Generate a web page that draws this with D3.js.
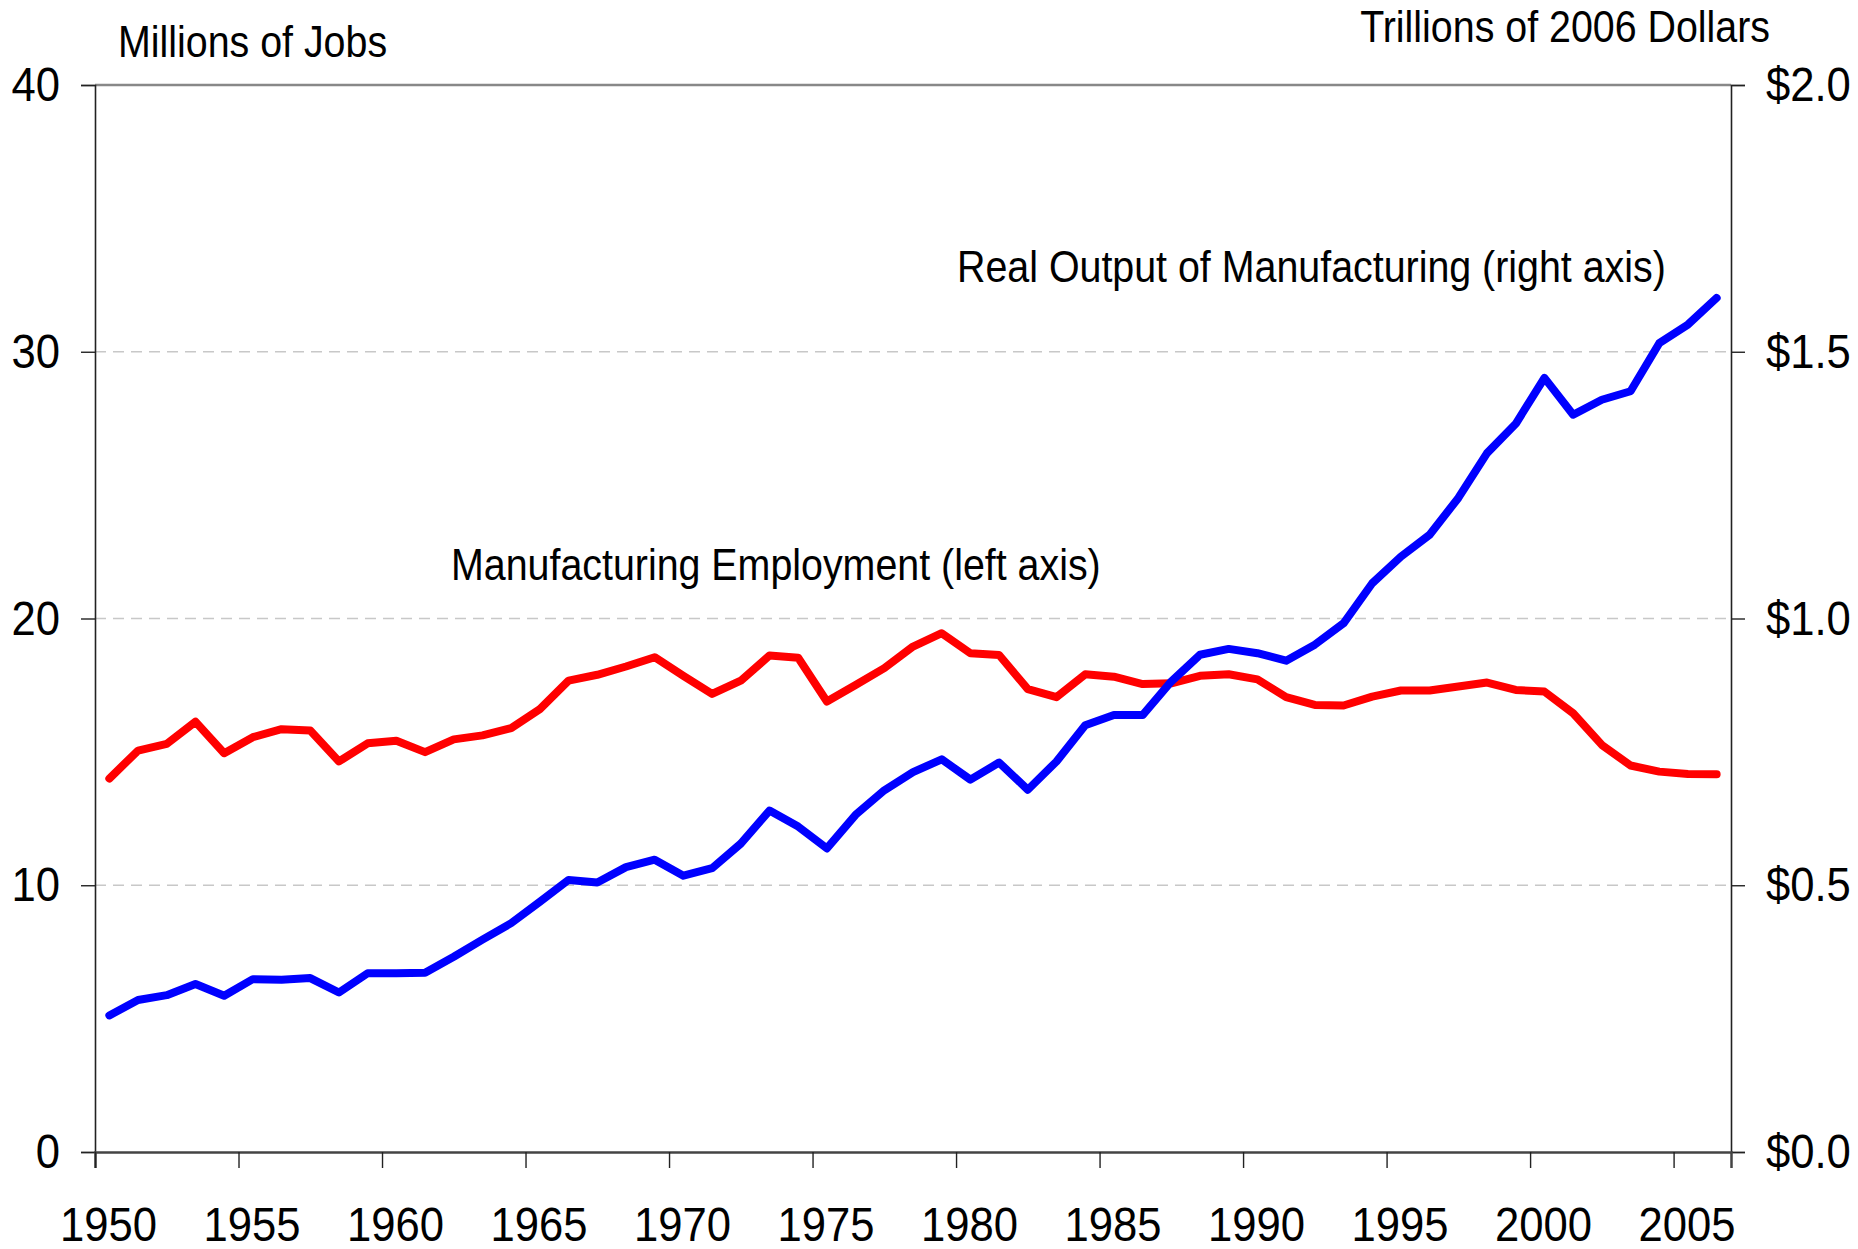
<!DOCTYPE html>
<html>
<head>
<meta charset="utf-8">
<script src="https://cdn.jsdelivr.net/npm/d3@7"></script>
<style>
  body { margin: 0; background: #fff; }
  text { font-family: "Liberation Sans", Arial, sans-serif; fill: #000; }
</style>
</head>
<body>
<div id="chart"></div>
<script>
// Years on the x axis (plotted mid-year)
const years = [1950, 1951, 1952, 1953, 1954, 1955, 1956, 1957, 1958, 1959,
               1960, 1961, 1962, 1963, 1964, 1965, 1966, 1967, 1968, 1969,
               1970, 1971, 1972, 1973, 1974, 1975, 1976, 1977, 1978, 1979,
               1980, 1981, 1982, 1983, 1984, 1985, 1986, 1987, 1988, 1989,
               1990, 1991, 1992, 1993, 1994, 1995, 1996, 1997, 1998, 1999,
               2000, 2001, 2002, 2003, 2004, 2005, 2006];

// Manufacturing employment, millions of jobs (left axis)
const employment = [14.0, 15.05, 15.3, 16.13, 14.95, 15.55, 15.85, 15.8, 14.64, 15.32,
                    15.42, 14.99, 15.47, 15.62, 15.89, 16.6, 17.67, 17.89, 18.2, 18.55,
                    17.85, 17.17, 17.67, 18.61, 18.53, 16.89, 17.51, 18.14, 18.95, 19.45,
                    18.7, 18.63, 17.35, 17.05, 17.91, 17.82, 17.54, 17.57, 17.85, 17.91,
                    17.72, 17.05, 16.76, 16.74, 17.07, 17.3, 17.3, 17.45, 17.6, 17.32,
                    17.26, 16.45, 15.26, 14.49, 14.26, 14.17, 14.16];

// Real output of manufacturing, trillions of 2006 dollars (right axis)
const output = [0.256, 0.285, 0.294, 0.315, 0.293, 0.324, 0.323, 0.326, 0.299, 0.335,
                0.335, 0.336, 0.366, 0.398, 0.429, 0.469, 0.510, 0.505, 0.534, 0.548,
                0.518, 0.532, 0.578, 0.640, 0.610, 0.569, 0.632, 0.678, 0.712, 0.736,
                0.698, 0.730, 0.679, 0.732, 0.800, 0.819, 0.819, 0.882, 0.932, 0.943,
                0.935, 0.921, 0.951, 0.991, 1.066, 1.116, 1.157, 1.226, 1.310, 1.365,
                1.451, 1.382, 1.410, 1.426, 1.516, 1.551, 1.601];

const xTicks = [1950, 1955, 1960, 1965, 1970, 1975, 1980, 1985, 1990, 1995, 2000, 2005];
const leftTicks = [0, 10, 20, 30, 40];
const rightTicks = [0, 0.5, 1.0, 1.5, 2.0];

const width = 1858;
const height = 1249;
const plot = { left: 95, right: 1731, top: 85, bottom: 1152 };

// the original uses a condensed face; squeeze Liberation Sans to match
const tickSqueeze = 0.89;
const labelSqueeze = 0.875;

const svg = d3.select("#chart")
  .append("svg")
  .attr("width", width)
  .attr("height", height);

const x = d3.scaleLinear().domain([1950, 2007]).range([plot.left, plot.right]);
const yLeft = d3.scaleLinear().domain([0, 40]).range([plot.bottom, plot.top]);
const yRight = d3.scaleLinear().domain([0, 2]).range([plot.bottom, plot.top]);

// dashed gridlines
svg.append("g")
  .selectAll("line")
  .data(leftTicks.filter(d => d > 0 && d < 40))
  .join("line")
    .attr("x1", plot.left).attr("x2", plot.right)
    .attr("y1", d => yLeft(d)).attr("y2", d => yLeft(d))
    .attr("stroke", "#c8c8c8")
    .attr("stroke-width", 1.5)
    .attr("stroke-dasharray", "11,7");

// top frame line
svg.append("line")
  .attr("x1", plot.left).attr("x2", plot.right)
  .attr("y1", plot.top).attr("y2", plot.top)
  .attr("stroke", "#888")
  .attr("stroke-width", 2.5);

// left axis
const leftAxis = svg.append("g")
  .attr("transform", `translate(${plot.left},0)`)
  .call(d3.axisLeft(yLeft).tickValues(leftTicks).tickSize(14).tickPadding(21).tickFormat(d3.format("d")));

// right axis
const rightAxis = svg.append("g")
  .attr("transform", `translate(${plot.right},0)`)
  .call(d3.axisRight(yRight).tickValues(rightTicks).tickSize(14).tickPadding(21).tickFormat(d => "$" + d.toFixed(1)));

// bottom axis
const bottomAxis = svg.append("g")
  .attr("transform", `translate(0,${plot.bottom})`)
  .call(d3.axisBottom(x).tickValues(xTicks).tickSize(16).tickPadding(38).tickFormat(d3.format("d")));

[leftAxis, rightAxis, bottomAxis].forEach(g => {
  g.select(".domain").attr("stroke", "#222").attr("stroke-width", 1.6);
  g.selectAll(".tick line").attr("stroke", "#222").attr("stroke-width", 1.4);
  g.selectAll(".tick text")
    .attr("font-family", '"Liberation Sans", Arial, sans-serif')
    .style("font-size", "49px")
    .attr("fill", "#000")
    .attr("x", function() { return (+this.getAttribute("x") || 0) / tickSqueeze; })
    .attr("transform", `scale(${tickSqueeze},1)`);
});
// year labels sit a little right of their ticks in the original
bottomAxis.selectAll(".tick text").attr("x", 13 / tickSqueeze);
bottomAxis.select(".domain").attr("stroke", "#444").attr("stroke-width", 2.5);

// lines
const employmentLine = d3.line()
  .x((d, i) => x(years[i] + 0.5))
  .y(d => yLeft(d));

const outputLine = d3.line()
  .x((d, i) => x(years[i] + 0.5))
  .y(d => yRight(d));

svg.append("path")
  .datum(employment)
  .attr("d", employmentLine)
  .attr("fill", "none")
  .attr("stroke", "#ff0000")
  .attr("stroke-width", 8)
  .attr("stroke-linejoin", "round")
  .attr("stroke-linecap", "round");

svg.append("path")
  .datum(output)
  .attr("d", outputLine)
  .attr("fill", "none")
  .attr("stroke", "#0000ff")
  .attr("stroke-width", 8)
  .attr("stroke-linejoin", "round")
  .attr("stroke-linecap", "round");

// axis titles and annotations
const labels = [
  { text: "Millions of Jobs", x: 118, y: 57, anchor: "start" },
  { text: "Trillions of 2006 Dollars", x: 1770, y: 42, anchor: "end" },
  { text: "Real Output of Manufacturing (right axis)", x: 957, y: 282, anchor: "start" },
  { text: "Manufacturing Employment (left axis)", x: 451, y: 580, anchor: "start" }
];

svg.append("g")
  .selectAll("text")
  .data(labels)
  .join("text")
    .attr("transform", d => `translate(${d.x},${d.y}) scale(${labelSqueeze},1)`)
    .attr("text-anchor", d => d.anchor)
    .style("font-size", "45px")
    .text(d => d.text);
</script>
</body>
</html>
